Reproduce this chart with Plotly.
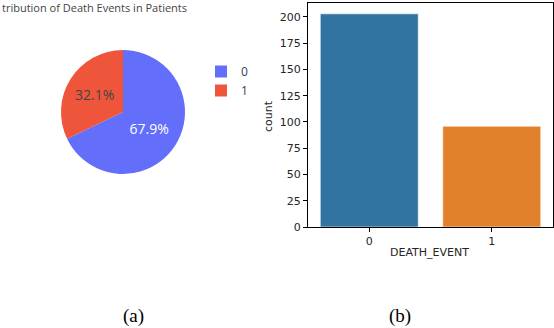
import plotly.graph_objects as go

W, H = 554, 328

# data
labels = ["0", "1"]
counts = [203, 96]
pie_colors = ["#636efa", "#ef553b"]
bar_colors = ["#3274a1", "#e1812c"]
y_ticks = [0, 25, 50, 75, 100, 125, 150, 175, 200]
captions = ["(a)", "(b)"]
pie_title = "tribution of Death Events in Patients"  # left part is cut off in the source
x_title = "DEATH_EVENT"
y_title = "count"


def px_x(p):
    return p / W


def px_y(p):
    return 1 - p / H


fig = go.Figure()

# (a) pie
fig.add_trace(go.Pie(
    labels=labels, values=counts, sort=False, direction="clockwise",
    marker=dict(colors=pie_colors), textinfo="percent",
    textposition="inside", textfont=dict(size=14),
    domain=dict(x=[px_x(61), px_x(185)], y=[px_y(174), px_y(50)]),
    showlegend=True,
))

# (b) bar
fig.add_trace(go.Bar(
    x=labels, y=counts, width=0.8,
    marker=dict(color=bar_colors, line=dict(color="rgba(255,255,255,0.6)", width=1)),
    showlegend=False, xaxis="x", yaxis="y",
))

axis_font = dict(family="DejaVu Sans", size=11, color="#262626")
fig.update_layout(
    width=W, height=H, margin=dict(l=0, r=0, t=0, b=0),
    paper_bgcolor="white", plot_bgcolor="white",
    font=dict(family="Open Sans", color="#444"),
    legend=dict(x=px_x(201), y=px_y(57), xanchor="left", yanchor="top",
                font=dict(size=12, color="#2a3f5f"), bgcolor="rgba(0,0,0,0)"),
    xaxis=dict(domain=[px_x(308), px_x(553)], range=[-0.5, 1.5], type="category",
               automargin=False,
               showline=True, linecolor="black", linewidth=1, mirror=True,
               ticks="outside", ticklen=4, tickcolor="black", showgrid=False,
               tickfont=axis_font),
    yaxis=dict(domain=[px_y(227), px_y(3)], range=[0, 213.3], automargin=False,
               tickvals=y_ticks, showline=True, linecolor="black", linewidth=1,
               mirror=True, ticks="outside", ticklen=4, tickcolor="black",
               showgrid=False, zeroline=False, tickfont=axis_font),
)

# axis titles
fig.add_annotation(text=x_title, xref="paper", yref="paper", x=px_x(429), y=px_y(252),
                   xanchor="center", yanchor="middle", showarrow=False, font=axis_font)
fig.add_annotation(text=y_title, xref="paper", yref="paper", x=px_x(268), y=px_y(116),
                   xanchor="center", yanchor="middle", showarrow=False, textangle=-90,
                   font=axis_font)

fig.add_annotation(text=pie_title, xref="paper", yref="paper", x=0, y=px_y(7),
                   xanchor="left", yanchor="middle", showarrow=False,
                   font=dict(family="Open Sans", size=11, color="#444"))

for txt, cx in zip(captions, [133, 400]):
    fig.add_annotation(text=txt, xref="paper", yref="paper", x=px_x(cx), y=px_y(316),
                       xanchor="center", yanchor="middle", showarrow=False,
                       font=dict(family="Liberation Serif", size=19, color="black"))

fig.write_html("out.html", config={"displayModeBar": False},
               post_script="document.body.style.margin='0';document.body.style.overflow='hidden';")
